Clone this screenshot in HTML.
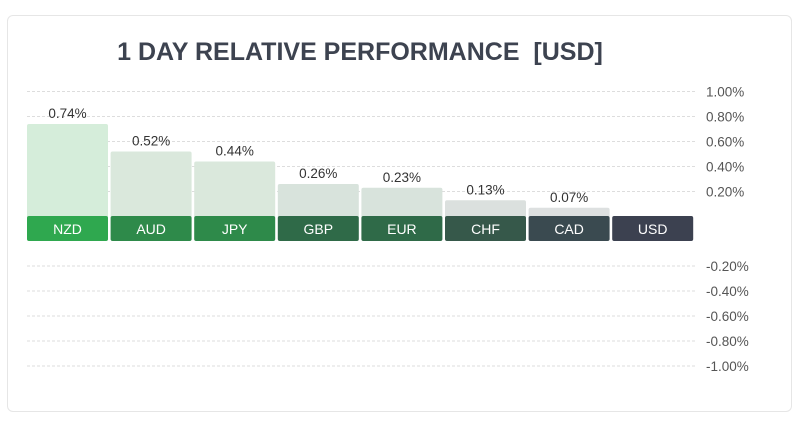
<!DOCTYPE html>
<html><head><meta charset="utf-8"><style>
html,body{margin:0;padding:0;background:#fff;width:800px;height:439px;overflow:hidden;font-family:"Liberation Sans",sans-serif}
#card{position:absolute;left:7px;top:15px;width:785px;height:397px;border:1px solid #e6e6e6;border-radius:6px;box-sizing:border-box}
#title{position:absolute;left:0;width:720px;top:38px;text-align:center;font-size:25px;font-weight:bold;color:#3d4350}
</style></head><body>
<div id="card"></div>
<div id="title">1 DAY RELATIVE PERFORMANCE &nbsp;[USD]</div>
<svg id="chart" width="800" height="439" style="position:absolute;left:0;top:0"></svg>
<script>
const categories=["NZD","AUD","JPY","GBP","EUR","CHF","CAD","USD"];
const values=[0.74,0.52,0.44,0.26,0.23,0.13,0.07,0];
const valueLabels=["0.74%","0.52%","0.44%","0.26%","0.23%","0.13%","0.07%",""];
const posTicks=[1.0,0.8,0.6,0.4,0.2];
const negTicks=[-0.2,-0.4,-0.6,-0.8,-1.0];
const labelColors=["#2fa84f","#2e8a4a","#2e8a4a","#2f6a48","#2f6a48","#36584a","#3a4a50","#3c4150"];
const barColors=["#d5edda","#dae8dc","#dae8dc","#d8e3dc","#d8e3dc","#dbe0de","#dde0e0","#dde0e0"];
const svg=document.getElementById('chart');
const NS="http://www.w3.org/2000/svg";
const x0=27,step=83.6,bw=81,pxPer=125;
const zeroPos=216.5,zeroNeg=241;
function yPos(v){return zeroPos-v*pxPer;}
function yNeg(v){return zeroNeg-v*pxPer;}
function xAt(i){return x0+i*step;}
function mk(t,a){const e=document.createElementNS(NS,t);for(const k in a)e.setAttribute(k,a[k]);svg.appendChild(e);return e;}
function fmt(v){return v.toFixed(2)+"%";}
posTicks.forEach(v=>{
 const l=mk('line',{x1:27,x2:695,y1:yPos(v),y2:yPos(v),stroke:'#ddd','stroke-dasharray':'3,2'});
 
 
 const t=mk('text',{x:706,y:yPos(v)+5,'font-size':13.5,fill:'#555'});
 t.textContent=fmt(v);
 
 
});
negTicks.forEach(v=>{
 const l=mk('line',{x1:27,x2:695,y1:yNeg(v),y2:yNeg(v),stroke:'#ddd','stroke-dasharray':'3,2'});
 
 
 const t=mk('text',{x:706,y:yNeg(v)+5,'font-size':13.5,fill:'#555'});
 t.textContent=fmt(v);
 
 
});
categories.forEach((c,i)=>{
 const x=xAt(i),v=values[i];
 if(v>0){
  const b=mk('rect',{x:x,y:yPos(v),width:bw,height:zeroPos-yPos(v)+2,fill:barColors[i],rx:2});
  
  
  const t=mk('text',{x:x+bw/2,y:yPos(v)-6,'font-size':13.5,fill:'#333','text-anchor':'middle'});
  t.textContent=valueLabels[i];
  
  
 }
 const r=mk('rect',{x:x,y:216,width:bw,height:25,fill:labelColors[i],rx:2});
 
 
 const t=mk('text',{x:x+bw/2,y:234,'font-size':14,fill:'#fff','text-anchor':'middle'});
 t.textContent=c;
 
 
});
</script>
</body></html>
